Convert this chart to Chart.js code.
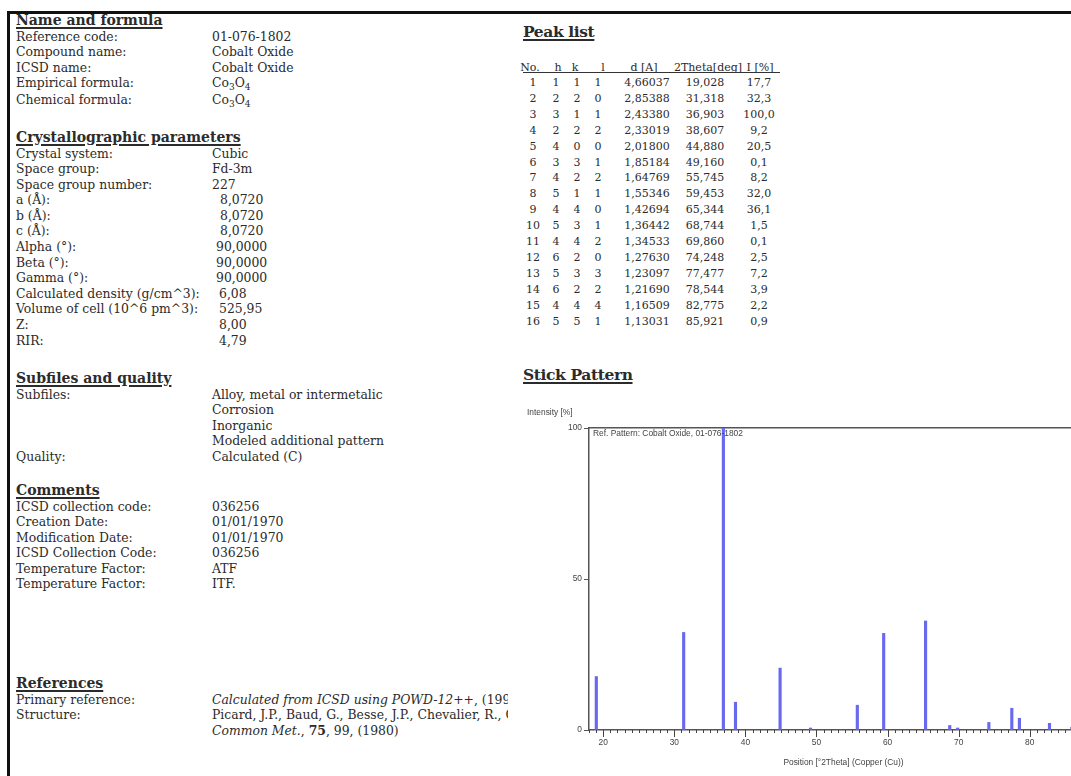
<!DOCTYPE html>
<html>
<head>
<meta charset="utf-8">
<script src="https://cdn.jsdelivr.net/npm/chart.js"></script>
<style>
  body { margin: 0; width: 1071px; height: 776px; overflow: hidden; position: relative; background: #fff; color: #2b2b2b; font-family: "DejaVu Serif", serif; }
  .frame { position: absolute; left: 7px; top: 11px; width: 1200px; height: 900px; border-top: 3px solid #111; border-left: 3px solid #111; }
  .left { position: absolute; left: 0; top: 0; width: 508px; height: 776px; overflow: hidden; }
  .sec { position: absolute; left: 16px; white-space: nowrap; font-size: 12.4px; }
  .sec h2 { margin: 0; height: 17px; line-height: 17px; font-size: 14px; font-weight: bold; text-decoration: underline; text-decoration-thickness: 2px; text-underline-offset: 2px; }
  .r { height: 15.6px; line-height: 15.6px; }
  .k { display: inline-block; width: 196px; }
  .n1 { padding-left: 8px; } .n2 { padding-left: 4px; } .n3 { padding-left: 7px; }
  sub { font-size: 9px; vertical-align: -3px; line-height: 0; }
  .rh { position: absolute; left: 523px; margin: 0; font-size: 15.5px; letter-spacing: -0.4px; font-weight: bold; text-decoration: underline; text-decoration-thickness: 2px; text-underline-offset: 2px; line-height: 20px; }
  #peaks { position: absolute; left: 0; top: 0; font-size: 11px; }
  .pr { position: absolute; left: 0; height: 16px; line-height: 16px; width: 1px; }
  .pr span { position: absolute; top: 0; white-space: nowrap; transform: translateX(-50%); }
  .hline { position: absolute; left: 523px; top: 72px; width: 257px; height: 1px; background: #333; }
  #box { position: absolute; left: 515px; top: 400px; width: 583px; height: 376px; }
</style>
</head>
<body>
<div class="frame"></div>
<div class="left">
  <div class="sec" style="top:11.5px">
    <h2>Name and formula</h2>
    <div class="r"><span class="k">Reference code:</span>01-076-1802</div>
    <div class="r"><span class="k">Compound name:</span>Cobalt Oxide</div>
    <div class="r"><span class="k">ICSD name:</span>Cobalt Oxide</div>
    <div class="r"><span class="k">Empirical formula:</span>Co<sub>3</sub>O<sub>4</sub></div>
    <div class="r" style="margin-top:1px"><span class="k">Chemical formula:</span>Co<sub>3</sub>O<sub>4</sub></div>
  </div>
  <div class="sec" style="top:128.5px">
    <h2>Crystallographic parameters</h2>
    <div class="r"><span class="k">Crystal system:</span>Cubic</div>
    <div class="r"><span class="k">Space group:</span>Fd-3m</div>
    <div class="r"><span class="k">Space group number:</span>227</div>
    <div class="r"><span class="k">a (Å):</span><span class="n1">8,0720</span></div>
    <div class="r"><span class="k">b (Å):</span><span class="n1">8,0720</span></div>
    <div class="r"><span class="k">c (Å):</span><span class="n1">8,0720</span></div>
    <div class="r"><span class="k">Alpha (°):</span><span class="n2">90,0000</span></div>
    <div class="r"><span class="k">Beta (°):</span><span class="n2">90,0000</span></div>
    <div class="r"><span class="k">Gamma (°):</span><span class="n2">90,0000</span></div>
    <div class="r"><span class="k">Calculated density (g/cm^3):</span><span class="n3">6,08</span></div>
    <div class="r"><span class="k">Volume of cell (10^6 pm^3):</span><span class="n3">525,95</span></div>
    <div class="r"><span class="k">Z:</span><span class="n3">8,00</span></div>
    <div class="r"><span class="k">RIR:</span><span class="n3">4,79</span></div>
  </div>
  <div class="sec" style="top:369.5px">
    <h2>Subfiles and quality</h2>
    <div class="r"><span class="k">Subfiles:</span>Alloy, metal or intermetalic</div>
    <div class="r"><span class="k"></span>Corrosion</div>
    <div class="r"><span class="k"></span>Inorganic</div>
    <div class="r"><span class="k"></span>Modeled additional pattern</div>
    <div class="r"><span class="k">Quality:</span>Calculated (C)</div>
  </div>
  <div class="sec" style="top:481.5px">
    <h2>Comments</h2>
    <div class="r"><span class="k">ICSD collection code:</span>036256</div>
    <div class="r"><span class="k">Creation Date:</span>01/01/1970</div>
    <div class="r"><span class="k">Modification Date:</span>01/01/1970</div>
    <div class="r"><span class="k">ICSD Collection Code:</span>036256</div>
    <div class="r"><span class="k">Temperature Factor:</span>ATF</div>
    <div class="r"><span class="k">Temperature Factor:</span>ITF.</div>
  </div>
  <div class="sec" style="top:674.5px">
    <h2>References</h2>
    <div class="r"><span class="k">Primary reference:</span><i>Calculated from ICSD using POWD-12++</i>, (1997)</div>
    <div class="r"><span class="k">Structure:</span>Picard, J.P., Baud, G., Besse, J.P., Chevalier, R., Gasperin, M., <i>J. Less-</i></div>
    <div class="r"><span class="k"></span><i>Common Met.</i>, <b>75</b>, 99, (1980)</div>
  </div>
</div>

<h1 class="rh" style="top:22px">Peak list</h1>
<div id="peaks"></div>
<div class="hline"></div>
<h1 class="rh" style="top:365px">Stick Pattern</h1>

<div id="box"><canvas id="stick" width="583" height="376"></canvas></div>

<script>
// peak list data
const peakNo = [1, 2, 3, 4, 5, 6, 7, 8, 9, 10, 11, 12, 13, 14, 15, 16];
const hIdx = [1, 2, 3, 2, 4, 3, 4, 5, 4, 5, 4, 6, 5, 6, 4, 5];
const kIdx = [1, 2, 1, 2, 0, 3, 2, 1, 4, 3, 4, 2, 3, 2, 4, 5];
const lIdx = [1, 0, 1, 2, 0, 1, 2, 1, 0, 1, 2, 0, 3, 2, 4, 1];
const dSpacing = ['4,66037', '2,85388', '2,43380', '2,33019', '2,01800', '1,85184', '1,64769', '1,55346',
  '1,42694', '1,36442', '1,34533', '1,27630', '1,23097', '1,21690', '1,16509', '1,13031'];
const twoTheta = [19.028, 31.318, 36.903, 38.607, 44.880, 49.160, 55.745, 59.453,
  65.344, 68.744, 69.860, 74.248, 77.477, 78.544, 82.775, 85.921];
const intensity = [17.7, 32.3, 100.0, 9.2, 20.5, 0.1, 8.2, 32.0, 36.1, 1.5, 0.1, 2.5, 7.2, 3.9, 2.2, 0.9];

const headers = ['No.', 'h', 'k', 'l', 'd [A]', '2Theta[deg]', 'I [%]'];
const yTicks = [0, 50, 100];
const legendText = 'Ref. Pattern: Cobalt Oxide, 01-076-1802';

// TABLE

const peaks = document.getElementById('peaks');
const colX = [533, 556, 577, 598, 647, 705, 759];
const headX = [530, 558, 575, 603, 644, 708, 760];

function addRow(cells, xs, top) {
    const row = document.createElement('div');
    row.className = 'pr';
    row.style.top = top + 'px';
    cells.forEach((c, i) => {
        const s = document.createElement('span');
        s.style.left = xs[i] + 'px';
        s.textContent = c;
        row.appendChild(s);
    });
    peaks.appendChild(row);
}

const fmt = (v, n) => v.toFixed(n).replace('.', ',');

addRow(headers, headX, 60);
peakNo.forEach((no, i) => {
    addRow([no, hIdx[i], kIdx[i], lIdx[i], dSpacing[i], fmt(twoTheta[i], 3), fmt(intensity[i], 1)], colX, 75 + i * 15.9);
});

// CHART

const axisColor = '#555';
const chartFont = { family: '"Liberation Sans", sans-serif', size: 8.4 };

const minorTicks = {
    id: 'minorTicks',
    afterDraw(chart) {
        const x = chart.scales.x;
        const ctx = chart.ctx;
        ctx.save();
        ctx.strokeStyle = '#444';
        ctx.lineWidth = 1;
        for (let v = Math.ceil(x.min); v <= x.max; v++) {
            const px = Math.round(x.getPixelForValue(v)) + 0.5;
            const len = v % 10 === 0 ? 7 : 3;
            ctx.beginPath();
            ctx.moveTo(px, x.top);
            ctx.lineTo(px, x.top + len);
            ctx.stroke();
        }
        ctx.restore();
    }
};

const chartText = {
    id: 'chartText',
    afterDraw(chart) {
        const { ctx, chartArea } = chart;
        ctx.save();
        ctx.font = '8.4px "Liberation Sans", sans-serif';
        ctx.fillStyle = '#444';
        ctx.textBaseline = 'middle';
        ctx.fillText('Intensity [%]', 12, 13);
        ctx.fillText(legendText, chartArea.left + 4, chartArea.top + 6);
        ctx.restore();
    }
};

const stickChart = new Chart(document.getElementById('stick'), {
    type: 'bar',
    data: {
        datasets: [{
            data: twoTheta.map((t, i) => ({ x: t, y: intensity[i] })),
            backgroundColor: 'rgb(105, 105, 238)',
            barThickness: 2.5,
            minBarLength: 2
        }]
    },
    options: {
        responsive: false,
        animation: false,
        layout: { padding: { top: 28, right: 0, bottom: 0, left: 0 } },
        plugins: { legend: { display: false }, tooltip: { enabled: false } },
        scales: {
            x: {
                type: 'linear', position: 'bottom', min: 18, max: 89.6, offset: false,
                grid: { display: false, drawTicks: false, offset: false },
                border: { color: axisColor, width: 1.5 },
                ticks: { stepSize: 10, includeBounds: false, padding: 8, color: '#444', font: chartFont, maxRotation: 0 },
                title: { display: true, text: 'Position [°2Theta] (Copper (Cu))', color: '#444', font: chartFont, padding: { top: 4, bottom: 8 } },
                afterFit: s => { s.height = 46; }
            },
            x2: {
                type: 'linear', position: 'top', min: 18, max: 89.6, offset: false,
                grid: { display: false, drawTicks: false },
                border: { display: true, color: axisColor, width: 1.5 },
                ticks: { display: false },
                afterFit: s => { s.height = 0; }
            },
            y: {
                min: 0, max: 100,
                grid: { drawOnChartArea: false, tickLength: 5, tickColor: axisColor },
                border: { color: axisColor, width: 1.5 },
                ticks: {
                    stepSize: 50, padding: 2, color: '#444', font: chartFont,
                    callback: v => yTicks.includes(v) ? v : ''
                },
                afterFit: s => { s.width = 74; }
            }
        }
    },
    plugins: [minorTicks, chartText]
});
</script>
</body>
</html>
